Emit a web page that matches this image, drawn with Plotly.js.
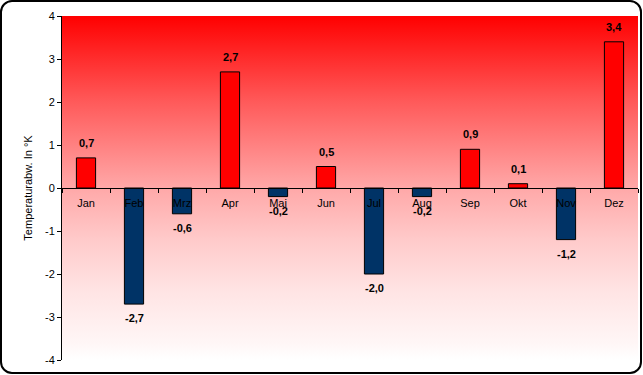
<!DOCTYPE html>
<html>
<head>
<meta charset="utf-8">
<script src="https://cdn.plot.ly/plotly-3.0.1.min.js"></script>
<style>
html,body{margin:0;padding:0;background:#fff;}
#wrap{position:relative;width:643px;height:375px;}
#chart{width:643px;height:375px;}
#frame{position:absolute;left:0;top:0;width:642px;height:374px;box-sizing:border-box;border:2px solid #000;border-radius:12px;pointer-events:none;}
</style>
</head>
<body>
<div id="wrap"><div id="chart"></div><div id="frame"></div></div>
<script>
var months = ["Jan","Feb","Mrz","Apr","Mai","Jun","Jul","Aug","Sep","Okt","Nov","Dez"];
var deviation = [0.7,-2.7,-0.6,2.7,-0.2,0.5,-2.0,-0.2,0.9,0.1,-1.2,3.4];
var yTicks = [-4,-3,-2,-1,0,1,2,3,4];

var barColors = deviation.map(function(v){ return v >= 0 ? "#ff0000" : "#003366"; });

var svg = '<svg xmlns="http://www.w3.org/2000/svg" width="100" height="100" preserveAspectRatio="none">' +
  '<defs><linearGradient id="g" x1="0" y1="0" x2="0" y2="1">' +
  '<stop offset="0" stop-color="#ff0000"/>' +
  '<stop offset="0.25" stop-color="#ff5a5a"/>' +
  '<stop offset="0.5" stop-color="#ffa8a8"/>' +
  '<stop offset="0.65" stop-color="#ffcaca"/>' +
  '<stop offset="0.8" stop-color="#ffe4e4"/>' +
  '<stop offset="0.95" stop-color="#fff6f6"/>' +
  '<stop offset="1" stop-color="#ffffff"/>' +
  '</linearGradient></defs><rect width="100" height="100" fill="url(#g)"/></svg>';
var bgSrc = "data:image/svg+xml;base64," + btoa(svg);

var trace = {
  type: "bar",
  x: months,
  y: deviation,
  width: 0.4,
  marker: {color: barColors, line: {color: "#000", width: 1}},
  hoverinfo: "none"
};

var labels = months.map(function(m, i){
  var v = deviation[i];
  return {
    x: m, y: v, xref: "x", yref: "y",
    text: v.toFixed(1).replace(".", ","),
    showarrow: false,
    yanchor: "middle",
    yshift: v >= 0 ? 15 : -14,
    font: {family: "Liberation Sans, Arial, sans-serif", size: 11, color: "#000", weight: "bold"}
  };
});

var layout = {
  width: 643, height: 375,
  margin: {l: 62, r: 5, t: 16, b: 15},
  paper_bgcolor: "rgba(0,0,0,0)",
  plot_bgcolor: "rgba(0,0,0,0)",
  showlegend: false,
  font: {family: "Liberation Sans, Arial, sans-serif", size: 11, color: "#000"},
  images: [{source: bgSrc, xref: "paper", yref: "paper", x: 0, y: 1, sizex: 1, sizey: 1,
            sizing: "stretch", layer: "below", xanchor: "left", yanchor: "top"}],
  annotations: labels,
  xaxis: {
    type: "category",
    anchor: "free", position: 0.5,
    showline: true, linecolor: "#000", linewidth: 1,
    ticks: "outside", ticklen: 4, tickcolor: "#000", tickson: "boundaries",
    ticklabelstandoff: 5,
    showgrid: false, zeroline: false,
    tickfont: {size: 11},
    fixedrange: true
  },
  yaxis: {
    range: [-4, 4],
    tickvals: yTicks,
    ticktext: yTicks.map(String),
    showline: true, linecolor: "#000", linewidth: 1,
    ticks: "outside", ticklen: 4, tickcolor: "#000",
    showgrid: false, zeroline: false,
    tickfont: {size: 11},
    title: {text: "Temperaturabw. In °K", font: {size: 11}, standoff: 10},
    fixedrange: true
  },
  bargap: 0.6
};

Plotly.newPlot("chart", [trace], layout, {displayModeBar: false, staticPlot: true});
</script>
</body>
</html>
